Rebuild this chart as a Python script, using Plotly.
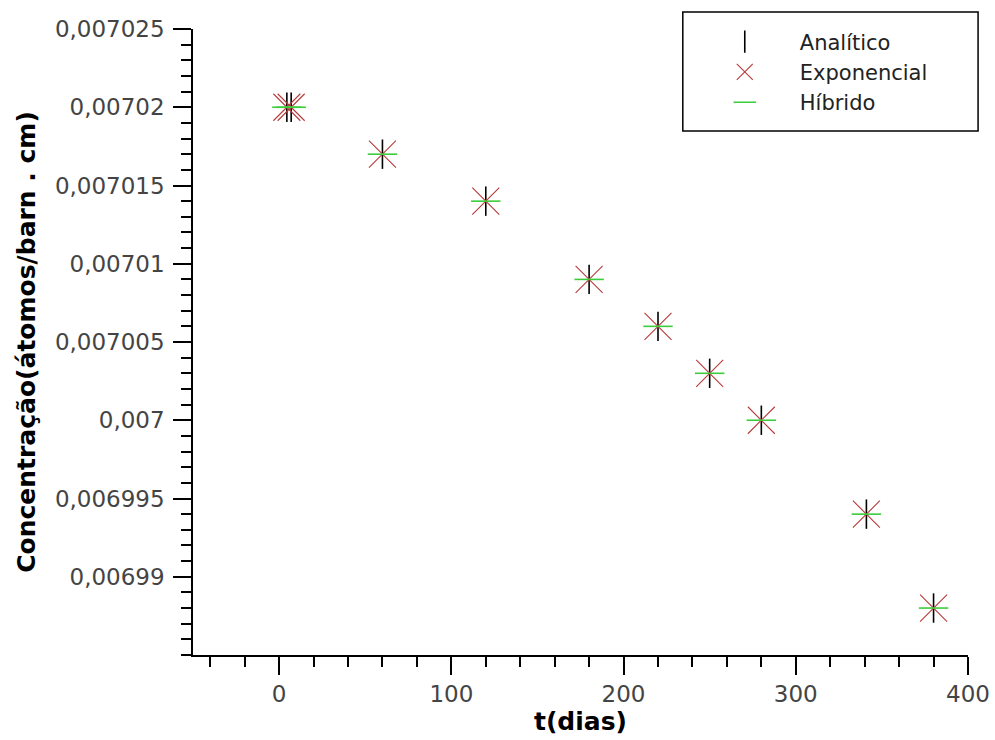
import plotly.graph_objects as go

# ---- data ----
t_dias = [4.5, 7, 60, 120, 180, 220, 250, 280, 341, 380]
analitico = [0.00702, 0.00702, 0.007017, 0.007014, 0.007009, 0.007006, 0.007003, 0.007, 0.006994, 0.006988]
exponencial = [0.00702, 0.00702, 0.007017, 0.007014, 0.007009, 0.007006, 0.007003, 0.007, 0.006994, 0.006988]
hibrido = [0.00702, 0.00702, 0.007017, 0.007014, 0.007009, 0.007006, 0.007003, 0.007, 0.006994, 0.006988]

x_tickvals = [0, 100, 200, 300, 400]
x_ticktext = ["0", "100", "200", "300", "400"]
y_tickvals = [0.00699, 0.006995, 0.007, 0.007005, 0.00701, 0.007015, 0.00702, 0.007025]
y_ticktext = ["0,00699", "0,006995", "0,007", "0,007005", "0,00701", "0,007015", "0,00702", "0,007025"]

FONT = "DejaVu Sans"

fig = go.Figure()
fig.add_trace(go.Scatter(
    x=t_dias, y=analitico, mode="markers", name="Analítico",
    marker=dict(symbol="line-ns", size=21, color="black",
                line=dict(color="black", width=1.6)),
))
fig.add_trace(go.Scatter(
    x=t_dias, y=exponencial, mode="markers", name="Exponencial",
    marker=dict(symbol="x-thin", size=27, color="#b83a3a",
                line=dict(color="#b83a3a", width=1.1)),
))
fig.add_trace(go.Scatter(
    x=t_dias, y=hibrido, mode="markers", name="Híbrido",
    marker=dict(symbol="line-ew", size=21, color="#3ccc3c",
                line=dict(color="#3ccc3c", width=1.6)),
))

axis_common = dict(
    showline=True, linecolor="black", linewidth=1.5,
    showgrid=False, zeroline=False,
    ticks="outside", ticklen=18, tickwidth=1.5, tickcolor="black",
    tickfont=dict(family=FONT, size=23, color="#444444"),
)

fig.update_xaxes(
    range=[-50, 400], tickmode="array", tickvals=x_tickvals, ticktext=x_ticktext,
    minor=dict(ticks="outside", ticklen=10, tickwidth=1.5, tickcolor="black",
               tickmode="linear", tick0=0, dtick=20),
    title=dict(text="<b>t(dias)</b>", font=dict(family=FONT, size=25, color="black"),
               standoff=2),
    **axis_common,
)
fig.update_yaxes(
    range=[0.006985, 0.007025], tickmode="array", tickvals=y_tickvals, ticktext=y_ticktext,
    minor=dict(ticks="outside", ticklen=10, tickwidth=1.5, tickcolor="black",
               tickmode="linear", tick0=0.006985, dtick=0.000001),
    ticklabelstandoff=4,
    title=dict(text="<b>Concentração(átomos/barn . cm)</b>",
               font=dict(family=FONT, size=25, color="black"), standoff=12),
    **axis_common,
)

# legend frame
fig.add_shape(type="rect", xref="paper", yref="paper",
              x0=0.632, x1=1.013, y0=0.837, y1=1.027,
              line=dict(color="black", width=1.5), fillcolor="rgba(0,0,0,0)")

fig.update_layout(
    width=995, height=740,
    margin=dict(l=193, r=27, t=29, b=85, autoexpand=False),
    paper_bgcolor="white", plot_bgcolor="white",
    font=dict(family=FONT, color="black"),
    showlegend=True,
    legend=dict(x=0.641, y=1.012, xanchor="left", yanchor="top",
                bgcolor="rgba(0,0,0,0)", borderwidth=0,
                font=dict(family=FONT, size=21, color="#222222"),
                itemwidth=100, tracegroupgap=0),
)

fig.write_html("out.html")
